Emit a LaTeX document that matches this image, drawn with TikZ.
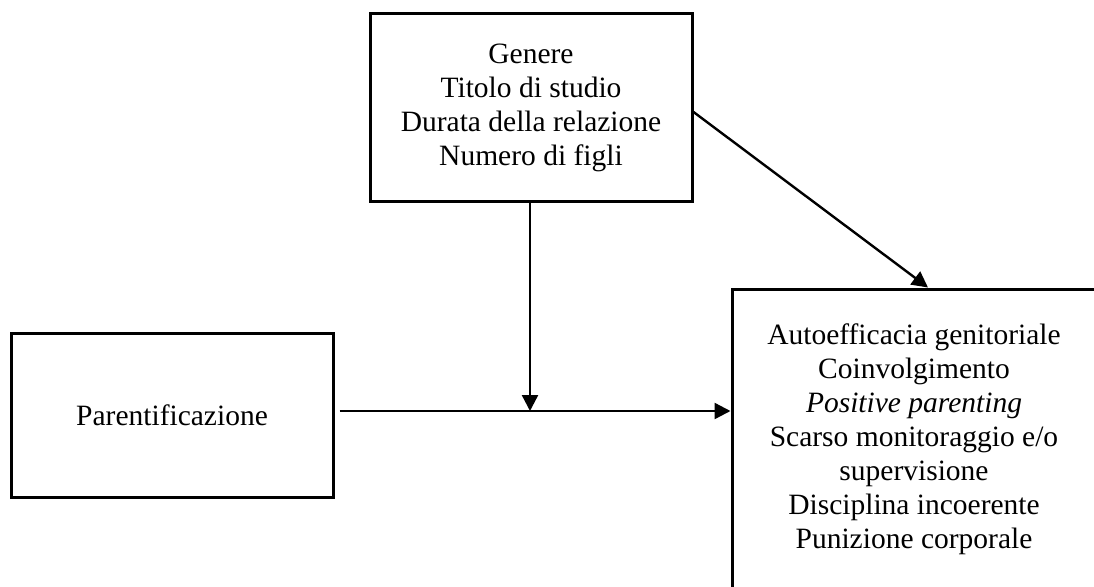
\documentclass[tikz,border=0pt]{standalone}
\usepackage{fontspec}
\setmainfont{Liberation Serif}
\usetikzlibrary{arrows.meta}
\begin{document}
\begin{tikzpicture}[x=1pt,y=-1pt,
  box/.style={draw,line width=3pt,align=center,inner sep=0pt,
    font=\fontsize{29.5}{34}\selectfont},
  arr/.style={line width=2.4pt,-{Triangle[length=16pt,width=16pt]}}]
\useasboundingbox (0,0) rectangle (1094,586);
\clip (0,0) rectangle (1094,586);
% moderators
\node[box,minimum width=322pt,minimum height=187pt] (mod) at (531,107.5)
  {Genere\\Titolo di studio\\Durata della relazione\\Numero di figli};
% predictor
\node[box,minimum width=322pt,minimum height=164pt] (par) at (172,415)
  {Parentificazione};
% outcomes
\node[box,minimum width=364pt,minimum height=300pt] (out) at (914,439)
  {Autoefficacia genitoriale\\Coinvolgimento\\\textit{Positive parenting}\\
   Scarso monitoraggio e/o\\supervisione\\Disciplina incoerente\\Punizione corporale};
% junction of the moderation path
\coordinate (j) at (530,411);
\draw[arr] ([xshift=5pt]par.east |- j) -- (out.west |- j);
\draw[arr] (mod.south -| j) -- (j);
\draw[arr] ([yshift=-4.5pt]mod.east) -- ([xshift=14pt]out.north);
\end{tikzpicture}
\end{document}
